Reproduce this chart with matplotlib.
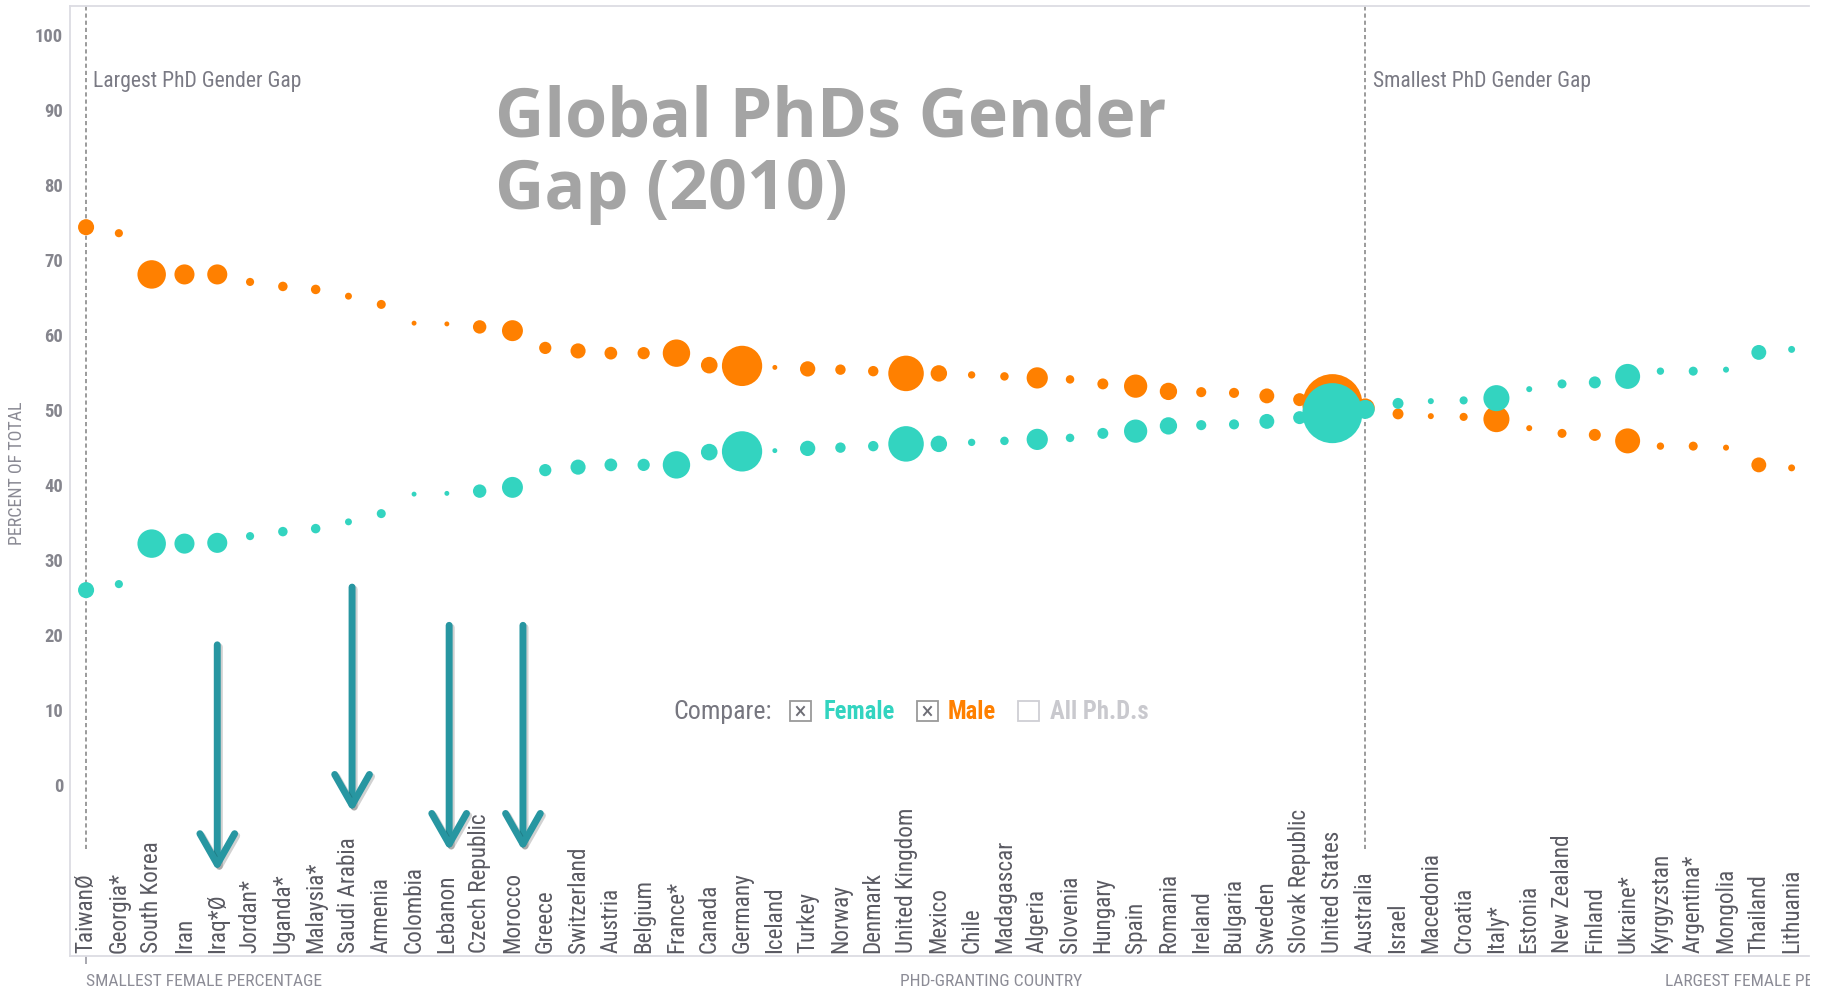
import os
import matplotlib
matplotlib.use('Agg')
import matplotlib.pyplot as plt
import matplotlib.transforms as mtransforms
import matplotlib.patheffects as pe
from matplotlib import font_manager as fm
from matplotlib.patches import Rectangle, FancyArrowPatch
from matplotlib.lines import Line2D
import numpy as np

# ---------------- data ----------------
countries = ["TaiwanØ", "Georgia*", "South Korea", "Iran", "Iraq*Ø", "Jordan*", "Uganda*",
             "Malaysia*", "Saudi Arabia", "Armenia", "Colombia", "Lebanon", "Czech Republic",
             "Morocco", "Greece", "Switzerland", "Austria", "Belgium", "France*", "Canada",
             "Germany", "Iceland", "Turkey", "Norway", "Denmark", "United Kingdom", "Mexico",
             "Chile", "Madagascar", "Algeria", "Slovenia", "Hungary", "Spain", "Romania",
             "Ireland", "Bulgaria", "Sweden", "Slovak Republic", "United States", "Australia",
             "Israel", "Macedonia", "Croatia", "Italy*", "Estonia", "New Zealand", "Finland",
             "Ukraine*", "Kyrgyzstan", "Argentina*", "Mongolia", "Thailand", "Lithuania"]

male_pct = [74.2, 73.4, 67.9, 67.9, 67.9, 66.9, 66.3, 65.9, 65.0, 63.9, 61.4, 61.3, 60.9,
            60.4, 58.1, 57.7, 57.4, 57.4, 57.4, 55.8, 55.7, 55.5, 55.3, 55.2, 55.0, 54.7,
            54.7, 54.5, 54.3, 54.1, 53.9, 53.3, 53.0, 52.3, 52.2, 52.1, 51.7, 51.2, 50.6,
            50.1, 49.3, 49.0, 48.9, 48.6, 47.4, 46.7, 46.5, 45.7, 45.0, 45.0, 44.8, 42.5, 42.1]

female_pct = [25.8, 26.6, 32.0, 32.0, 32.1, 33.0, 33.6, 34.0, 34.9, 36.0, 38.6, 38.7, 39.0,
              39.5, 41.8, 42.2, 42.5, 42.5, 42.5, 44.2, 44.3, 44.4, 44.7, 44.8, 45.0, 45.3,
              45.3, 45.5, 45.7, 45.9, 46.1, 46.7, 47.0, 47.7, 47.8, 47.9, 48.3, 48.8, 49.4,
              49.9, 50.7, 51.0, 51.1, 51.4, 52.6, 53.3, 53.5, 54.3, 55.0, 55.0, 55.2, 57.5, 57.9]

# relative number of PhDs (thousands)
phds_thousands = [4.3, 1.1, 13.5, 6.7, 6.7, 1.1, 1.5, 1.5, 0.8, 1.35, 0.4, 0.4, 3.0, 7.3,
                  2.5, 3.8, 2.7, 2.5, 12.5, 4.6, 27.0, 0.4, 3.9, 1.8, 1.8, 21.0, 4.5, 0.9,
                  1.2, 7.5, 1.2, 2.0, 9.0, 5.0, 1.7, 1.7, 3.7, 2.8, 60.0, 6.0, 2.0, 0.6, 1.1,
                  11.3, 0.6, 1.35, 2.4, 10.4, 0.9, 1.35, 0.6, 3.7, 0.8]

y_ticks = list(range(0, 101, 10))

# highlighted countries (arrows): country, x nudge, arrow top / tip in axis units
arrow_marks = [("Iraq*Ø", 0.0, 18.5, -11.7),
               ("Saudi Arabia", 0.11, 26.2, -3.8),
               ("Lebanon", 0.07, 21.1, -9.0),
               ("Morocco", 0.32, 21.1, -9.0)]

# ---------------- style ----------------
ORANGE = "#FF8000"
TEAL = "#33D4C0"
ARROW = "#2796A1"
TITLE_FONT = ["Open Sans", "DejaVu Sans"]


def pick_narrow():
    for fam in ["Liberation Sans Narrow", "Roboto Condensed", "DejaVu Sans Condensed",
                "Open Sans Condensed", "Noto Sans Condensed", "Arial Narrow"]:
        try:
            fm.findfont(fm.FontProperties(family=fam), fallback_to_default=False)
            return {"family": fam}
        except Exception:
            pass
    for fam in ["Noto Sans", "DejaVu Sans", "Open Sans"]:
        try:
            p = fm.findfont(fm.FontProperties(family=fam, stretch="condensed"),
                            fallback_to_default=False)
            if "ondensed" in os.path.basename(p):
                return {"family": fam, "stretch": "condensed"}
        except Exception:
            pass
    for fam in ["Roboto", "Lato", "Liberation Sans"]:
        try:
            fm.findfont(fm.FontProperties(family=fam), fallback_to_default=False)
            return {"family": fam}
        except Exception:
            pass
    return {"family": "DejaVu Sans"}


NARROW = pick_narrow()

W, H, DPI = 1825, 995, 100
fig = plt.figure(figsize=(W / DPI, H / DPI), dpi=DPI)
fig.patch.set_facecolor("white")
renderer = fig.canvas.get_renderer()


def fit_size(text, target_px, weight="normal", base=20.0):
    prop = fm.FontProperties(size=base, weight=weight, **NARROW)
    w, h, d = renderer.get_text_width_height_descent(text, prop, ismath=False)
    return base * target_px / w


def fx(px):
    return px / W


def fy(py):
    return 1 - py / H


ax = fig.add_axes([fx(70), fy(957), (1809 - 70) / W, (957 - 7) / H])
x = np.arange(len(countries))
ax.set_xlim(-0.49, 52.53)
ax.set_ylim(-23.0, 103.7)

for side in ["top", "left", "bottom"]:
    ax.spines[side].set_color("#DCDCE3")
    ax.spines[side].set_linewidth(1.3)
ax.spines["right"].set_visible(False)

ax.set_yticks(y_ticks)
ax.set_yticklabels([str(v) for v in y_ticks])
ax.tick_params(axis="y", length=0, pad=5, labelcolor="#85858D")
ytick_size = fit_size("100", 28, weight="bold")
for lab in ax.get_yticklabels():
    lab.set_fontproperties(fm.FontProperties(size=ytick_size, weight="bold", **NARROW))
ax.set_xticks([0])
ax.set_xticklabels([""])
ax.tick_params(axis="x", length=6, width=1.2, color="#9A9AA2", direction="out")

# dashed reference lines
for idx in (0, 39):
    ax.plot([idx, idx], [-8.7, 103.7], ls=(0, (2.5, 1.8)), color="#8A8A8A", lw=1.2, zorder=1)

gap_size = fit_size("Largest PhD Gender Gap", 208)
ax.text(0.21, 93.7, "Largest PhD Gender Gap", ha="left", va="center", fontsize=gap_size,
        color="#7A7A84", **NARROW)
ax.text(39.24, 93.7, "Smallest PhD Gender Gap", ha="left", va="center", fontsize=gap_size,
        color="#7A7A84", **NARROW)

# bubbles
sizes = [(7.75 * np.sqrt(c) * 72 / DPI) ** 2 for c in phds_thousands]
ax.scatter(x, male_pct, s=sizes, color=ORANGE, linewidths=0, zorder=3)
ax.scatter(x, female_pct, s=sizes, color=TEAL, linewidths=0, zorder=4)

# country labels inside the axes, above the baseline
label_size = fit_size("United Kingdom", 145)
trans = mtransforms.blended_transform_factory(ax.transData, ax.transAxes)
for i, name in enumerate(countries):
    ax.text(i, 0.004, name, transform=trans, rotation=90, ha="center", va="bottom",
            fontsize=label_size, color="#5A5A62", **NARROW)

# arrows
for name, dx, ytop, ytip in arrow_marks:
    xi = countries.index(name) + dx
    arr = FancyArrowPatch((xi, ytop), (xi, ytip),
                          arrowstyle="->,head_length=2.2,head_width=1.25",
                          mutation_scale=10, lw=5.0, color=ARROW,
                          shrinkA=0, shrinkB=0, joinstyle="round", capstyle="round",
                          zorder=5, clip_on=False,
                          path_effects=[pe.SimpleLineShadow(offset=(1.5, -1.5), alpha=0.18),
                                        pe.Normal()])
    ax.add_patch(arr)

# title
fig.text(fx(495), fy(155), "Global PhDs Gender\nGap (2010)", ha="left", va="center",
         fontsize=49, fontweight="bold", family=TITLE_FONT, color="#A4A4A4",
         linespacing=1.08)

# axis titles
fig.text(fx(17), fy(473), "PERCENT OF TOTAL", rotation=90, ha="center", va="center",
         fontsize=fit_size("PERCENT OF TOTAL", 145), color="#8A8A94", **NARROW)
cap_size = fit_size("SMALLEST FEMALE PERCENTAGE", 236)
fig.text(fx(86), fy(982), "SMALLEST FEMALE PERCENTAGE", ha="left", va="center",
         fontsize=cap_size, color="#8C8C96", **NARROW)
fig.text(fx(991), fy(982), "PHD-GRANTING COUNTRY", ha="center", va="center",
         fontsize=cap_size, color="#8C8C96", **NARROW)
t_right = fig.text(fx(1665), fy(982), "LARGEST FEMALE PERCENTAGE", ha="left", va="center",
                   fontsize=cap_size, color="#8C8C96", **NARROW)
# the reference view cuts this caption at the edge of the chart frame
t_right.set_clip_box(mtransforms.Bbox.from_extents(0, 0, 1810, H))
t_right.set_clip_on(True)

# compare control
cy = 712
cmp_size = fit_size("Compare:", 98)
fig.text(fx(673), fy(cy), "Compare:", ha="left", va="center", fontsize=cmp_size,
         color="#76767F", **NARROW)
for bx, checked, ec in [(790, True, "#9A9A9A"), (917, True, "#9A9A9A"), (1018, False, "#CFCFD4")]:
    fig.add_artist(Rectangle((fx(bx), fy(cy + 10)), 21 / W, 20 / H, transform=fig.transFigure,
                             fill=False, ec=ec, lw=1.3))
    if checked:
        fig.add_artist(Line2D([fx(bx + 7), fx(bx + 14)], [fy(cy - 4), fy(cy + 4)],
                              transform=fig.transFigure, color="#6E6E76", lw=1.4))
        fig.add_artist(Line2D([fx(bx + 7), fx(bx + 14)], [fy(cy + 4), fy(cy - 4)],
                              transform=fig.transFigure, color="#6E6E76", lw=1.4))
opt_size = fit_size("Female", 71, weight="bold")
fig.text(fx(824), fy(cy), "Female", ha="left", va="center", fontsize=opt_size,
         fontweight="bold", color=TEAL, **NARROW)
fig.text(fx(948), fy(cy), "Male", ha="left", va="center", fontsize=opt_size,
         fontweight="bold", color=ORANGE, **NARROW)
fig.text(fx(1050), fy(cy), "All Ph.D.s", ha="left", va="center", fontsize=opt_size,
         fontweight="bold", color="#C9C9CE", **NARROW)

fig.savefig("out.png", dpi=DPI, facecolor="white")
